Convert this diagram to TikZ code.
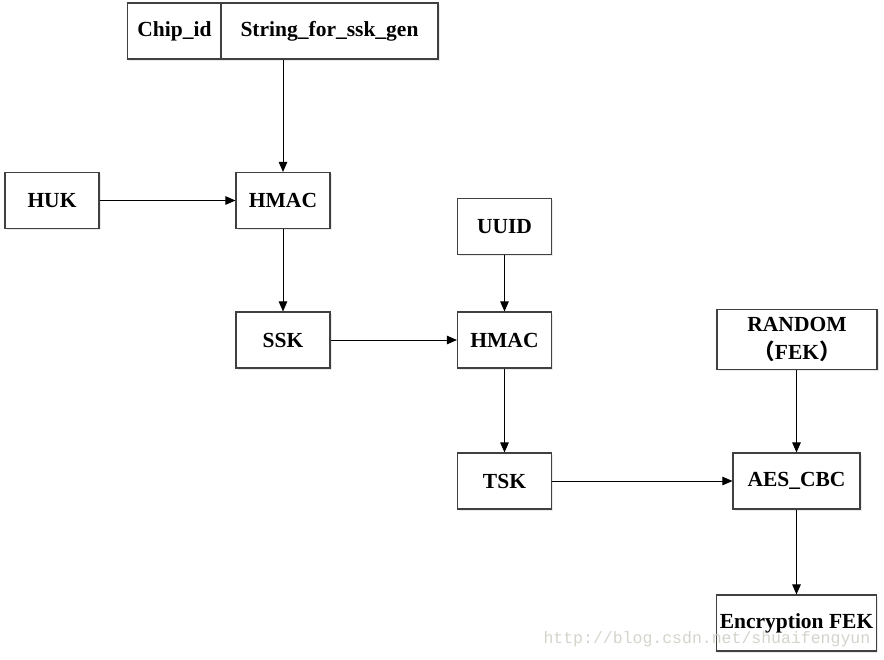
\documentclass[tikz,border=0pt]{standalone}
\usepackage{fontspec}
\setmainfont{Liberation Serif}
\setmonofont{Liberation Mono}
\newfontfamily\cjk{Noto Sans CJK SC}
\usetikzlibrary{arrows.meta,shadows}
\definecolor{boxline}{HTML}{404040}
\definecolor{markgray}{HTML}{D4D4CC}
\begin{document}
\begin{tikzpicture}[
  x=1pt, y=-1pt,
  keybox/.style={%
    rectangle,%
    draw=boxline,
    %draw=black,
    fill=white,
    line width=1.1pt,
    inner sep=0pt,
    font=\fontsize{21.5}{28}\selectfont\bfseries,
    align=center,
    drop shadow={shadow xshift=1.5pt,shadow yshift=-1.5pt,fill=blue!10!gray!30,opacity=0.5},
    minimum width=94pt,%
    minimum height=56pt%
  },
  flow/.style={%
    -{Triangle[length=10pt,width=8.5pt]},%
    line width=0.9pt,
    draw=black
  }
]
  \useasboundingbox (0,0) rectangle (884,659);

  \node [keybox]                   (chip)  at (174.5,31.0) {Chip\_id};
  \node [keybox,minimum width=217pt] (str) at (329.5,31.0) {String\_for\_ssk\_gen};
  \node [keybox]                   (huk)   at (52.0,200.5) {HUK};
  \node [keybox]                   (hmacA) at (283.0,200.5) {HMAC};
  \node [keybox]                   (ssk)   at (283.0,340.0) {SSK};
  \node [keybox]                   (uuid)  at (504.5,226.5) {UUID};
  \node [keybox]                   (hmacB) at (504.5,340.0) {HMAC};
  \node [keybox]                   (tsk)   at (504.5,481.0) {TSK};
  \node [keybox,minimum width=160pt,minimum height=60pt] (rand) at (797.0,339.5)
        {RANDOM\\{\cjk （}FEK{\cjk ）}};
  \node [keybox,minimum width=127pt] (aes)  at (796.5,481.0) {AES\_CBC};
  \node [keybox,minimum width=160pt] (efek) at (796.5,623.0) {Encryption FEK};

  \draw[flow] (hmacA.north |- str.south) -- (hmacA.north);
  \draw[flow] (huk) -- (hmacA);
  \draw[flow] (hmacA) -- (ssk);
  \draw[flow] (ssk) -- (hmacB);
  \draw[flow] (uuid) -- (hmacB);
  \draw[flow] (hmacB) -- (tsk);
  \draw[flow] (tsk) -- (aes);
  \draw[flow] (rand.south -| aes.north) -- (aes.north);
  \draw[flow] (aes) -- (efek);

  \node [text=markgray,font=\ttfamily\fontsize{16.5}{18}\selectfont,anchor=base west]
        (mark) at (540,643) {http://blog.csdn.net/shuaifengyun};

\end{tikzpicture}
\end{document}
